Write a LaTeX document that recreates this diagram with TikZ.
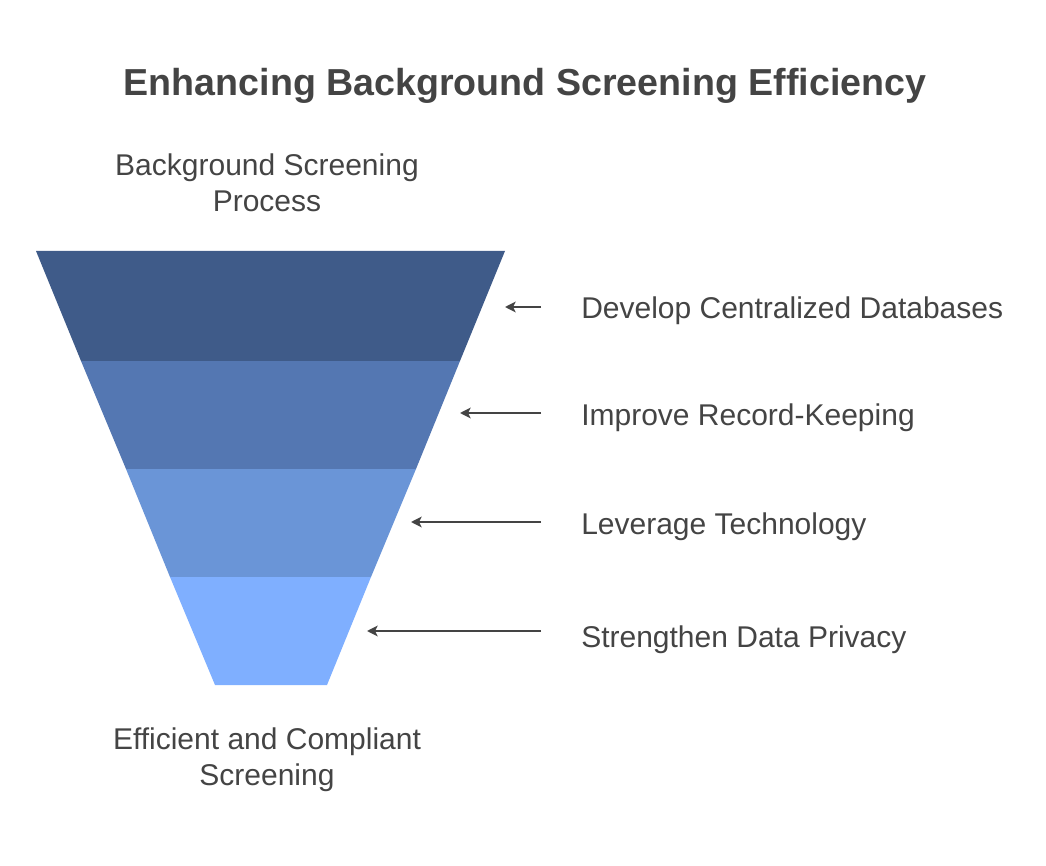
\documentclass[tikz,border=0pt]{standalone}
\usepackage{fontspec}
\setmainfont{Liberation Sans}
\usetikzlibrary{arrows.meta}
\definecolor{txt}{HTML}{444444}
\definecolor{bandA}{HTML}{3F5B89}
\definecolor{bandB}{HTML}{5477B2}
\definecolor{bandC}{HTML}{6A95D7}
\definecolor{bandD}{HTML}{7FAFFF}
\definecolor{arr}{HTML}{444444}
\begin{document}
\begin{tikzpicture}[x=0.75pt,y=-0.75pt,
  lbl/.style={text=txt,font=\fontsize{22.5}{27}\selectfont,anchor=west,inner sep=0pt},
  endlabel/.style={text=txt,font=\fontsize{22.5}{27}\selectfont,align=center,inner sep=0pt},
  conn/.style={draw=arr,line width=1.5pt,-{Stealth[length=8pt,width=8pt,inset=2pt]}}]
\useasboundingbox (0,0) rectangle (1046,866);
\node[text=txt,font=\bfseries\fontsize{28.2}{33}\selectfont,inner sep=0pt] (title) at (525,86) {Enhancing Background Screening Efficiency};
\node[endlabel] (top) at (267,183) {Background Screening\\Process};
\node[endlabel] (bot) at (267,760) {Efficient and Compliant\\Screening};
\fill[bandA] (36,251) -- (505,251) -- (460,361) -- (81,361) -- cycle;
\fill[bandB] (81,361) -- (460,361) -- (416,469) -- (126,469) -- cycle;
\fill[bandC] (126,469) -- (416,469) -- (371,577) -- (170,577) -- cycle;
\fill[bandD] (170,577) -- (371,577) -- (327,685) -- (215,685) -- cycle;
\coordinate (t1) at (505,307);
\coordinate (t2) at (460,413);
\coordinate (t3) at (411,522);
\coordinate (t4) at (367,631);
\node[lbl] (l1) at (581,311) {Develop Centralized Databases};
\node[lbl] (l2) at (581,418) {Improve Record-Keeping};
\node[lbl] (l3) at (581,527) {Leverage Technology};
\node[lbl] (l4) at (581,640) {Strengthen Data Privacy};
\coordinate (s1) at (541,307);
\coordinate (s2) at (541,413);
\coordinate (s3) at (541,522);
\coordinate (s4) at (541,631);
\draw[conn] (s1) -- (t1);
\draw[conn] (s2) -- (t2);
\draw[conn] (s3) -- (t3);
\draw[conn] (s4) -- (t4);
\end{tikzpicture}
\end{document}
